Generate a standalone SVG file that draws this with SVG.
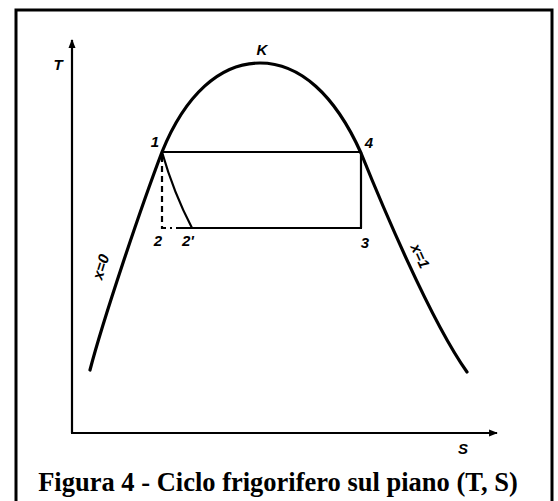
<svg xmlns="http://www.w3.org/2000/svg" width="558" height="501" viewBox="0 0 558 501">
<style>
.lbl{font-family:"Liberation Sans",Arial,sans-serif;font-weight:bold;font-style:italic;font-size:15px;fill:#000}
.cap{font-family:"Liberation Serif","Times New Roman",serif;font-weight:bold;font-size:26.5px;fill:#000}
.thick{fill:none;stroke:#000;stroke-width:3.2;stroke-linecap:round}
.thin{fill:none;stroke:#000;stroke-width:2.2}
</style>
<defs>
<marker id="arr" viewBox="0 0 10 10" refX="9" refY="5" markerWidth="4" markerHeight="4" orient="auto"><path d="M0,1 L10,5 L0,9 Z" fill="#000"/></marker>
</defs>
<rect x="0" y="0" width="558" height="501" fill="#fff"/>
<rect x="16" y="10" width="536" height="510" fill="none" stroke="#000" stroke-width="3"/>
<g id="axes">
<line x1="72" y1="433" x2="72" y2="40" class="thin" stroke-width="2.8" marker-end="url(#arr)"/>
<line x1="71" y1="433" x2="497" y2="433" class="thin" stroke-width="2.8" marker-end="url(#arr)"/>
<text class="lbl" x="58" y="70" text-anchor="middle">T</text>
<text class="lbl" x="463" y="454" text-anchor="middle">S</text>
</g>
<g id="saturation-curve">
<path class="thick" d="M90,370 C103,320 140,210 162,152 C185,95 220,63 260,63 C300,63 335,95 361,153 C380,200 430,320 467,372"/>
<text class="lbl" x="262" y="55" text-anchor="middle">K</text>
<text class="lbl" transform="translate(101,267) rotate(-73)" text-anchor="middle" dy="5">x=0</text>
<text class="lbl" transform="translate(420,256) rotate(66)" text-anchor="middle" dy="5">x=1</text>
</g>
<g id="cycle">
<line class="thin" x1="162" y1="152" x2="361" y2="152"/>
<line class="thin" x1="361" y1="152" x2="361" y2="228"/>
<line class="thin" x1="176" y1="228" x2="362" y2="228"/>
<path class="thin" d="M162,152 C170,180 180,205 192,228"/>
<path class="thin" d="M162,156 L162,228 L172,228" stroke-dasharray="6,4"/>
<text class="lbl" x="155" y="147" text-anchor="middle">1</text>
<text class="lbl" x="369" y="148" text-anchor="middle">4</text>
<text class="lbl" x="158" y="246" text-anchor="middle">2</text>
<text class="lbl" x="188" y="246" text-anchor="middle">2'</text>
<text class="lbl" x="365" y="248" text-anchor="middle">3</text>
</g>
<text class="cap" x="278" y="491" text-anchor="middle">Figura 4 - Ciclo frigorifero sul piano (T, S)</text>
</svg>
